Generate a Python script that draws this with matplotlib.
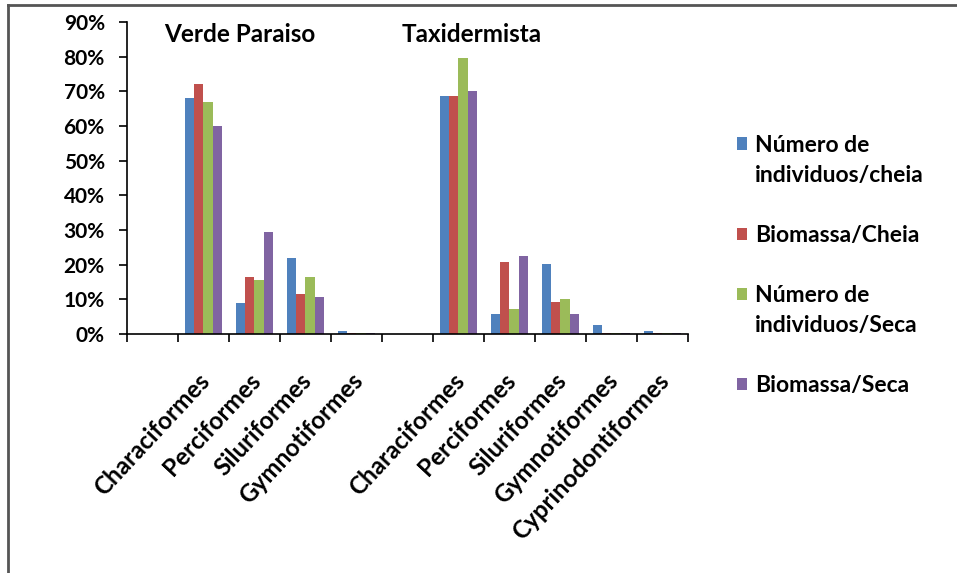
import matplotlib.pyplot as plt
from matplotlib.lines import Line2D
from matplotlib.patches import Rectangle
from matplotlib.transforms import ScaledTranslation
from matplotlib.legend_handler import HandlerPatch, update_from_first_child
import numpy as np

# =========================
# 1. DONNÉES
# =========================
categorias = ["", "Characiformes", "Perciformes", "Siluriformes", "Gymnotiformes",
              "", "Characiformes", "Perciformes", "Siluriformes", "Gymnotiformes",
              "Cyprinodontiformes"]

num_cheia = [0, 68, 9, 21.8, 0.9, 0, 68.7, 5.8, 20.2, 2.5, 1.0]
bio_cheia = [0, 72, 16.5, 11.5, 0.3, 0, 68.7, 20.7, 9.2, 0.3, 0.4]
num_seca = [0, 66.8, 15.5, 16.3, 0.2, 0, 79.6, 7.3, 10.0, 0.2, 0.2]
bio_seca = [0, 60, 29.3, 10.7, 0.2, 0, 70, 22.6, 5.8, 0.2, 0.2]

series = [
    ("Número de\nindividuos/cheia", num_cheia, "#4F81BD"),
    ("Biomassa/Cheia", bio_cheia, "#C0504D"),
    ("Número de\nindividuos/Seca", num_seca, "#9BBB59"),
    ("Biomassa/Seca", bio_seca, "#8064A2"),
]

locais = ["Verde Paraiso", "Taxidermista"]
locais_x = [1.72, 6.26]

plt.rcParams['font.family'] = ['Lato', 'DejaVu Sans']

# =========================
# 2. GRAPHIQUE
# =========================
fig = plt.figure(figsize=(9.57, 5.73), dpi=100)
ax = fig.add_axes([127 / 957, 1 - 334 / 573, 561 / 957, 312 / 573])

x = np.arange(len(categorias))
w = 0.18
barras = []
for i, (nom, vals, couleur) in enumerate(series):
    barras.append(ax.bar(x + (i - 1.5) * w, vals, width=w, color=couleur, label=nom))

ax.set_xlim(-0.5, len(categorias) - 0.5)
ax.set_ylim(0, 90)
ax.set_yticks(range(0, 91, 10))
ax.set_yticklabels([f"{v}%" for v in range(0, 91, 10)], fontsize=15, fontweight="bold")
ax.set_xticks(x)
ax.set_xticklabels(categorias, rotation=47, ha="right", rotation_mode="anchor",
                   fontsize=17.5, fontweight="bold")
ax.set_xticks(np.arange(-0.5, len(categorias), 1), minor=True)
ax.tick_params(axis="x", which="major", length=0, pad=25)
ax.tick_params(axis="x", which="minor", length=6, width=1.2, direction="out")
ax.tick_params(axis="y", length=6, width=1.2, direction="out", pad=10)

# petit décalage des étiquettes vers la gauche
decal = ScaledTranslation(-6 / 100, 0, fig.dpi_scale_trans)
for lbl in ax.get_xticklabels():
    lbl.set_transform(lbl.get_transform() + decal)

for s in ["top", "right"]:
    ax.spines[s].set_visible(False)
for s in ["left", "bottom"]:
    ax.spines[s].set_linewidth(1.2)

for nom, xp in zip(locais, locais_x):
    ax.text(xp, 86.5, nom, ha="center", va="center", fontsize=17.5, fontweight="bold")


# carré de légende aligné sur la première ligne du texte
def carre_haut(legend, orig_handle, xdescent, ydescent, width, height, fontsize):
    return Rectangle((-xdescent, -ydescent + 0.75 * fontsize), width, height)


def carre(legend, orig_handle, xdescent, ydescent, width, height, fontsize):
    return Rectangle((-xdescent, -ydescent), width, height)


hmap = {}
for (nom, _, _), b in zip(series, barras):
    f = carre_haut if "\n" in nom else carre
    hmap[b] = HandlerPatch(patch_func=f, update_func=update_from_first_child)

leg = ax.legend(loc="upper left", bbox_to_anchor=(1.05, 0.705), frameon=False,
                prop={"size": 16.5, "weight": "bold"}, handlelength=0.45,
                handleheight=0.45, handletextpad=0.35, labelspacing=1.7,
                handler_map=hmap)
for t in leg.get_texts():
    t.set_linespacing(1.55)

# cadre autour de la figure
fig.add_artist(Line2D([8 / 957, 1], [1 - 5 / 573, 1 - 5 / 573], color="#555555", lw=2))
fig.add_artist(Line2D([8 / 957, 8 / 957], [0, 1 - 5 / 573], color="#555555", lw=2))

fig.savefig("out.png", dpi=100)
